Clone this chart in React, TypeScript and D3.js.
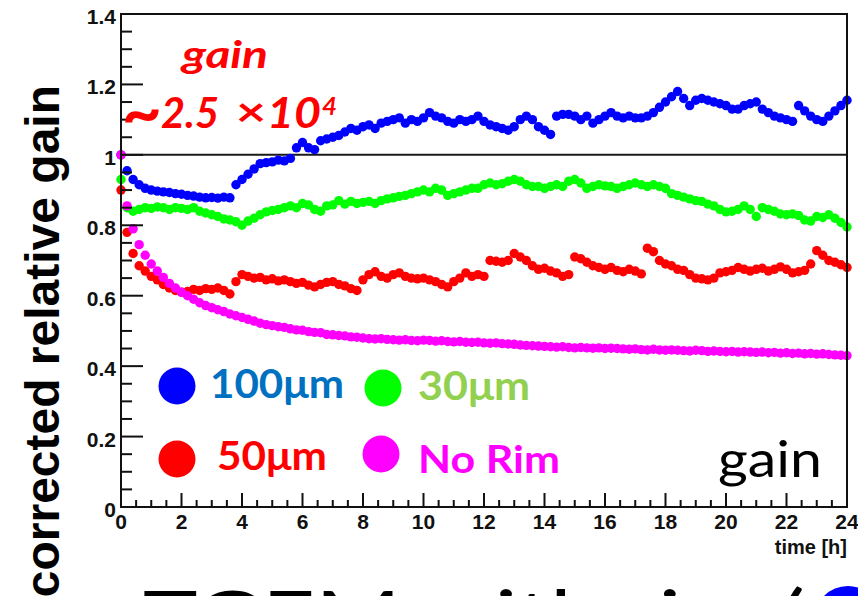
import React from "react";
import * as d3 from "d3";

const WIDTH = 858;
const HEIGHT = 596;

// Sampling interval of the gain measurements, in hours
const TIME_STEP_H = 0.2;

// Corrected relative gain, one value per TIME_STEP_H from 0 h to 24 h
const GAIN_100UM = [
  1.0, 0.955, 0.93, 0.915, 0.905, 0.9, 0.897, 0.895, 0.893, 0.89,
  0.888, 0.885, 0.883, 0.88, 0.878, 0.879, 0.877, 0.88, 0.878, 0.915,
  0.93, 0.945, 0.96, 0.975, 0.978, 0.98, 0.985, 0.983, 0.99, 1.02,
  1.035, 1.02, 1.015, 1.04, 1.045, 1.05, 1.055, 1.065, 1.075, 1.07,
  1.08, 1.085, 1.075, 1.09, 1.095, 1.1, 1.105, 1.09, 1.1, 1.095,
  1.105, 1.12, 1.11, 1.105, 1.095, 1.09, 1.1, 1.095, 1.1, 1.11,
  1.095, 1.085, 1.08, 1.075, 1.07, 1.08, 1.1, 1.11, 1.1, 1.08,
  1.07, 1.058, 1.11, 1.115, 1.115, 1.11, 1.1, 1.11, 1.09, 1.1,
  1.11, 1.12, 1.11, 1.105, 1.11, 1.105, 1.105, 1.11, 1.12, 1.135,
  1.15, 1.165, 1.18, 1.16, 1.14, 1.155, 1.16, 1.155, 1.15, 1.145,
  1.14, 1.13, 1.13, 1.14, 1.145, 1.15, 1.13, 1.12, 1.11, 1.105,
  1.1, 1.095, 1.14, 1.125, 1.11, 1.1, 1.095, 1.11, 1.125, 1.14,
  1.155,
];

const GAIN_30UM = [
  0.93, 0.85, 0.84, 0.845, 0.85, 0.848, 0.852, 0.85, 0.845, 0.85,
  0.848, 0.845, 0.85, 0.84, 0.835, 0.83, 0.825, 0.818, 0.815, 0.81,
  0.8, 0.812, 0.82, 0.83, 0.838, 0.842, 0.845, 0.85, 0.855, 0.85,
  0.862, 0.858, 0.845, 0.84, 0.855, 0.858, 0.87, 0.86, 0.868, 0.862,
  0.865, 0.868, 0.862, 0.87, 0.875, 0.878, 0.882, 0.885, 0.89, 0.895,
  0.9, 0.895, 0.905, 0.9, 0.885, 0.89, 0.895, 0.9, 0.905, 0.905,
  0.915, 0.92, 0.915, 0.918, 0.925, 0.93, 0.925, 0.915, 0.91, 0.91,
  0.905, 0.91, 0.915, 0.91, 0.925, 0.93, 0.92, 0.905, 0.91, 0.915,
  0.912, 0.91, 0.905, 0.91, 0.915, 0.92, 0.915, 0.91, 0.915, 0.91,
  0.905, 0.89, 0.885, 0.88, 0.875, 0.87, 0.868, 0.86, 0.855, 0.845,
  0.838, 0.84, 0.845, 0.855, 0.845, 0.825, 0.85, 0.845, 0.84, 0.832,
  0.83, 0.832, 0.828, 0.815, 0.812, 0.825, 0.822, 0.83, 0.82, 0.808,
  0.795,
];

const GAIN_50UM = [
  0.9, 0.78, 0.72, 0.685, 0.67, 0.655, 0.645, 0.632, 0.622, 0.615,
  0.61, 0.612, 0.618, 0.615, 0.62, 0.618, 0.622, 0.615, 0.605, 0.64,
  0.66, 0.655, 0.65, 0.652, 0.645, 0.648, 0.642, 0.645, 0.64, 0.635,
  0.638, 0.63, 0.625, 0.632, 0.638, 0.64, 0.632, 0.628, 0.62, 0.615,
  0.645, 0.66, 0.668, 0.655, 0.65, 0.66, 0.665, 0.655, 0.65, 0.648,
  0.65, 0.645, 0.64, 0.632, 0.625, 0.64, 0.65, 0.665, 0.655, 0.66,
  0.655, 0.7, 0.698, 0.695, 0.7, 0.72, 0.71, 0.7, 0.685, 0.675,
  0.678, 0.67, 0.665, 0.655, 0.66, 0.71, 0.705, 0.695, 0.685, 0.68,
  0.675, 0.68, 0.672, 0.668, 0.675, 0.67, 0.662, 0.735, 0.725, 0.7,
  0.69, 0.685, 0.675, 0.672, 0.66, 0.65, 0.648, 0.645, 0.65, 0.665,
  0.668, 0.672, 0.68, 0.675, 0.67, 0.675, 0.678, 0.67, 0.675, 0.682,
  0.675, 0.665, 0.668, 0.672, 0.69, 0.728, 0.715, 0.7, 0.695, 0.688,
  0.68,
];

const GAIN_NO_RIM = [
  1.0, 0.855, 0.79, 0.745, 0.715, 0.69, 0.67, 0.652, 0.635, 0.622,
  0.61, 0.6, 0.59, 0.58, 0.572, 0.566, 0.56, 0.555, 0.548, 0.543,
  0.538, 0.533, 0.528, 0.522, 0.518, 0.515, 0.512, 0.51, 0.506, 0.503,
  0.502, 0.498, 0.496, 0.495, 0.49, 0.489, 0.487, 0.486, 0.483, 0.482,
  0.48, 0.478, 0.477, 0.478, 0.476, 0.475, 0.474, 0.475, 0.473, 0.472,
  0.474, 0.473, 0.471, 0.472, 0.47, 0.469, 0.47, 0.468, 0.467, 0.468,
  0.466, 0.465, 0.466, 0.464, 0.463, 0.462, 0.46, 0.459, 0.458, 0.457,
  0.456, 0.455, 0.454, 0.455, 0.453, 0.452, 0.453, 0.452, 0.451, 0.452,
  0.45, 0.451, 0.45, 0.449, 0.448, 0.449, 0.447, 0.446, 0.448, 0.446,
  0.445, 0.446, 0.445, 0.444, 0.443, 0.445, 0.444, 0.442, 0.443, 0.442,
  0.441, 0.442, 0.44, 0.441, 0.44, 0.439, 0.44, 0.438, 0.439, 0.437,
  0.438, 0.436, 0.437, 0.435, 0.436, 0.434, 0.435, 0.433, 0.432, 0.431,
  0.43,
];

const SERIES_LABELS = ["100μm", "30μm", "50μm", "No Rim"];
const SERIES_VALUES = [GAIN_100UM, GAIN_30UM, GAIN_50UM, GAIN_NO_RIM];
const MARKER_COLORS = ["#0000ff", "#00ff00", "#ff0000", "#ff00ff"];
const LABEL_COLORS = ["#0070c0", "#92d050", "#ff0000", "#ff00ff"];

const X_DOMAIN = [0, 24];
const Y_DOMAIN = [0, 1.4];
const X_TITLE = "time [h]";
const Y_TITLE = "corrected relative gain";

const AXIS_FONT = "'Liberation Sans', Arial, Helvetica, sans-serif";
const SLIDE_FONT = "Lato, 'Open Sans', sans-serif";

const plot = { left: 121, right: 847, top: 14, bottom: 507 };

// legend layout: marker centre, label start, baseline, font size, label width
const legendLayout = [
  { cx: 177, cy: 386, tx: 210, ty: 398, fs: 40, tl: 134 },
  { cx: 383, cy: 388, tx: 418, ty: 400, fs: 40, tl: 112 },
  { cx: 177, cy: 459, tx: 217, ty: 470, fs: 40, tl: 110 },
  { cx: 381, cy: 454, tx: 418, ty: 473, fs: 38, tl: 142 },
];

export default function App() {
  const x = d3.scaleLinear().domain(X_DOMAIN).range([plot.left, plot.right]);
  const y = d3.scaleLinear().domain(Y_DOMAIN).range([plot.bottom, plot.top]);

  const xMajor = x.ticks(12);
  const xMinor = x.ticks(48).filter((t) => !xMajor.some((m) => Math.abs(m - t) < 1e-9));
  const yMajor = y.ticks(7);
  const yMinor = y.ticks(28).filter((t) => !yMajor.some((m) => Math.abs(m - t) < 1e-9));
  const fmt = d3.format("~g");

  const drawOrder = [0, 1, 2, 3];

  return (
    <svg
      width={WIDTH}
      height={HEIGHT}
      viewBox={`0 0 ${WIDTH} ${HEIGHT}`}
      style={{ position: "absolute", left: 0, top: 0, background: "#fff" }}
    >
      <rect x={0} y={0} width={WIDTH} height={HEIGHT} fill="#fff" />

      {/* reference line at unit gain */}
      <line x1={plot.left} x2={plot.right} y1={y(1)} y2={y(1)} stroke="#1a1a1a" strokeWidth={2} />

      {/* measurement points */}
      {drawOrder.map((si) => (
        <g key={si} fill={MARKER_COLORS[si]}>
          {SERIES_VALUES[si].map((v, i) => (
            <circle key={i} cx={x(i * TIME_STEP_H)} cy={y(v)} r={4.7} />
          ))}
        </g>
      ))}

      {/* frame */}
      <rect
        x={plot.left}
        y={plot.top}
        width={plot.right - plot.left}
        height={plot.bottom - plot.top}
        fill="none"
        stroke="#111"
        strokeWidth={2}
      />

      {/* axis ticks */}
      <g stroke="#111" strokeWidth={2}>
        {yMajor.map((t) => (
          <line key={"ym" + t} x1={plot.left} x2={plot.left + 22} y1={y(t)} y2={y(t)} />
        ))}
        {yMinor.map((t) => (
          <line key={"yn" + t} x1={plot.left} x2={plot.left + 11} y1={y(t)} y2={y(t)} />
        ))}
        {xMajor.map((t) => (
          <line key={"xm" + t} x1={x(t)} x2={x(t)} y1={plot.bottom} y2={plot.bottom - 14} />
        ))}
        {xMinor.map((t) => (
          <line key={"xn" + t} x1={x(t)} x2={x(t)} y1={plot.bottom} y2={plot.bottom - 7} />
        ))}
      </g>

      {/* tick labels */}
      <g fontFamily={AXIS_FONT} fontWeight="bold" fontSize={21} fill="#111">
        {yMajor.map((t) => (
          <text key={"yl" + t} x={plot.left - 5} y={y(t) + 10} textAnchor="end">
            {fmt(t)}
          </text>
        ))}
        {xMajor.map((t) => (
          <text key={"xl" + t} x={x(t)} y={plot.bottom + 22} textAnchor="middle">
            {fmt(t)}
          </text>
        ))}
        <text x={plot.right} y={554} textAnchor="end" fontSize={20}>
          {X_TITLE}
        </text>
      </g>

      {/* y axis title */}
      <text
        transform="translate(59,85) rotate(-90)"
        textAnchor="end"
        fontFamily={AXIS_FONT}
        fontWeight="bold"
        fontSize={48}
        fill="#000"
      >
        {Y_TITLE}
      </text>

      {/* gain annotation */}
      <g fill="#ff0000" fontFamily={SLIDE_FONT} fontWeight="bold" fontStyle="italic">
        <text x={182} y={68} fontSize={38} textLength={86} lengthAdjust="spacingAndGlyphs">
          gain
        </text>
        <text x={122} y={136} fontSize={66} textLength={40} lengthAdjust="spacingAndGlyphs">
          ~
        </text>
        <text x={161} y={128} fontSize={42} textLength={58} lengthAdjust="spacingAndGlyphs">
          2.5
        </text>
        <text x={236} y={126} fontSize={40} fontStyle="normal" textLength={30} lengthAdjust="spacingAndGlyphs">
          ×
        </text>
        <text x={267} y={128} fontSize={42} textLength={54} lengthAdjust="spacingAndGlyphs">
          10
        </text>
        <text x={322} y={115} fontSize={25} textLength={15} lengthAdjust="spacingAndGlyphs">
          4
        </text>
      </g>

      {/* legend */}
      {legendLayout.map((l, i) => (
        <g key={"lg" + i}>
          <circle cx={l.cx} cy={l.cy} r={18.5} fill={MARKER_COLORS[i]} />
          <text
            x={l.tx}
            y={l.ty}
            fontFamily={SLIDE_FONT}
            fontWeight="bold"
            fontSize={l.fs}
            fill={LABEL_COLORS[i]}
            textLength={l.tl}
            lengthAdjust="spacingAndGlyphs"
          >
            {SERIES_LABELS[i]}
          </text>
        </g>
      ))}

      <text
        x={718}
        y={477}
        fontFamily={SLIDE_FONT}
        fontSize={50}
        fill="#000"
        textLength={104}
        lengthAdjust="spacingAndGlyphs"
      >
        gain
      </text>

      {/* slide heading running below the chart */}
      <text
        x={143}
        y={645}
        fontFamily={SLIDE_FONT}
        fontSize={76}
        fill="#000"
        textLength={662}
        lengthAdjust="spacingAndGlyphs"
      >
        TGEM with rim (
      </text>
      <circle cx={848} cy={620} r={34} fill="#0000ff" />
    </svg>
  );
}
